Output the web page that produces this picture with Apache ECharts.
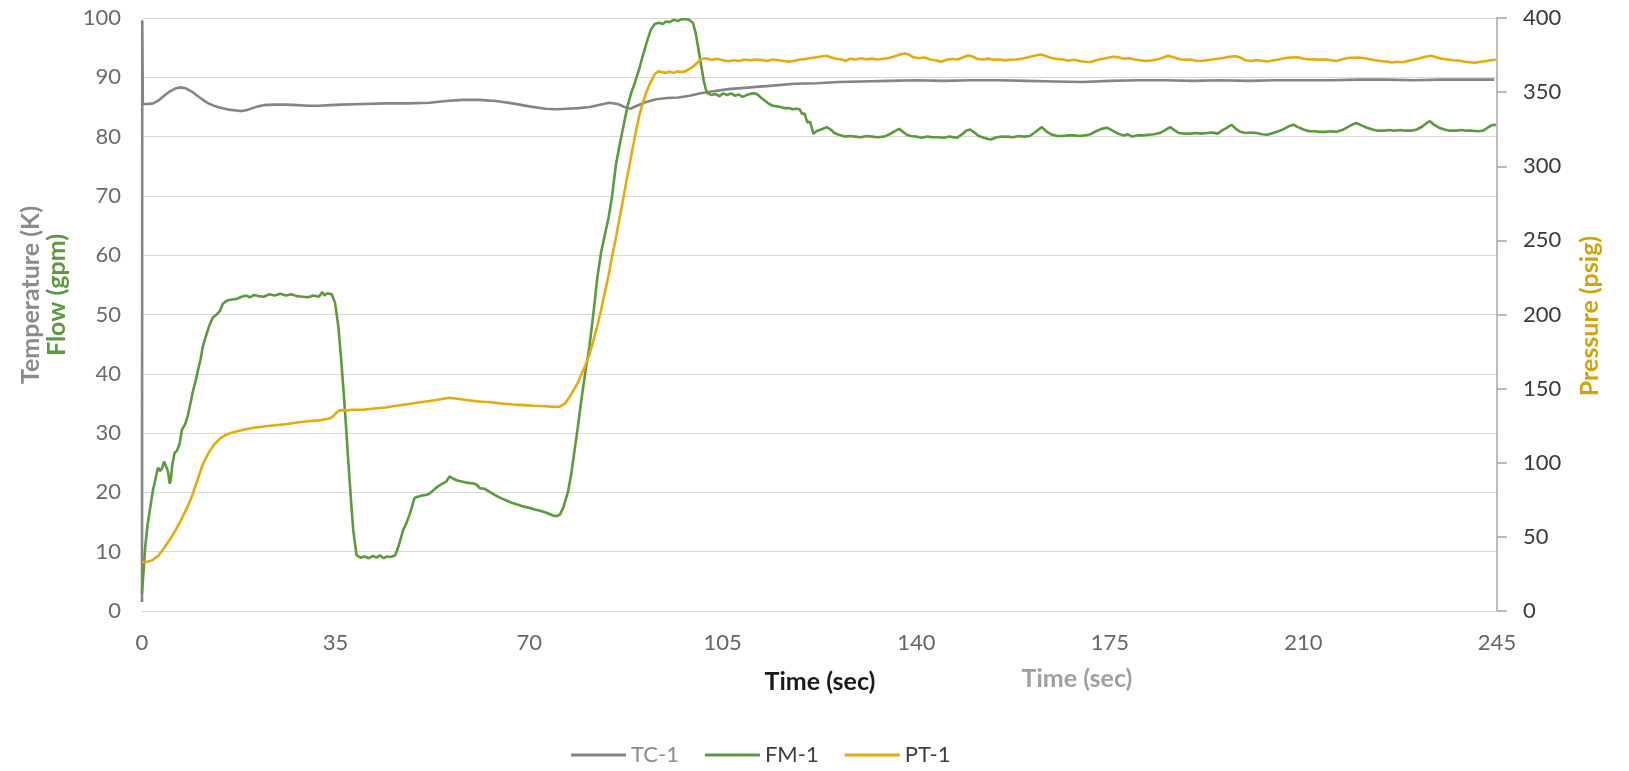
<!DOCTYPE html>
<html>
<head>
<meta charset="utf-8">
<script src="https://cdn.jsdelivr.net/npm/echarts@6/dist/echarts.min.js"></script>
<style>
html,body{margin:0;padding:0;background:#fff;}
#chart{width:1629px;height:771px;}
</style>
</head>
<body>
<div id="chart"></div>
<script>
// ---- data ----
const xTicks = [0, 35, 70, 105, 140, 175, 210, 245];

const tcTime = [0,0.05,0.15,1,2,3,4,5,6,7,8,9,10,11,12,13,14,15,16,17,18,19,20,21,22,24,26,28,30,32,34,36,40,44,48,52,55,58,61,64,67,70,73,75,77,79,81,83,84.5,86,87.5,88.3,89.5,91,93,95,97,99,101,103,106,110,114,118,122,126,130,135,140,145,150,155,160,165,170,175,180,185,190,195,200,205,210,215,220,225,230,235,240,244.5];
const tcTemp = [1.5,99.6,85.5,85.5,85.6,86.1,86.9,87.6,88.1,88.3,88.1,87.6,86.9,86.2,85.6,85.2,84.9,84.7,84.5,84.4,84.3,84.5,84.8,85.1,85.3,85.4,85.4,85.3,85.2,85.2,85.3,85.4,85.5,85.6,85.6,85.7,86.0,86.2,86.2,86.0,85.6,85.1,84.7,84.6,84.7,84.8,85.0,85.4,85.7,85.5,84.9,84.7,85.2,85.8,86.3,86.5,86.6,86.9,87.3,87.6,88.0,88.3,88.6,88.9,89.0,89.2,89.3,89.4,89.5,89.4,89.5,89.5,89.4,89.3,89.2,89.4,89.5,89.5,89.4,89.5,89.4,89.5,89.5,89.5,89.6,89.6,89.5,89.6,89.6,89.6];

const fmTime = [0,0.3,0.6,1.0,1.5,2.0,2.5,2.9,3.2,3.6,4.0,4.3,4.7,5.0,5.2,5.5,5.9,6.3,6.8,7.2,7.8,8.3,8.8,9.2,9.7,10.1,10.6,11.0,11.6,12.2,12.8,13.5,14.1,14.6,15.3,16,17,18,18.9,19.5,20.3,21,22,23,24,25,26,27,28,29,30,31,32,32.6,33.0,33.5,34.3,34.9,35.5,36.0,36.4,36.9,37.3,37.8,38.2,38.8,39.5,40.3,41,41.8,42.4,43,43.7,44.3,45,45.8,46.4,47.2,47.8,48.4,49.0,49.3,50.0,50.8,51.5,52.0,52.6,53.2,54.0,55.0,55.6,56.3,57.0,58.0,59.0,60.0,60.5,61.1,62.0,63.0,64.1,65.0,66.0,67.0,68.0,69.0,70.0,71.0,72.0,73.0,74.3,75.0,75.6,76.2,77.0,77.6,78.2,78.8,79.5,80.2,80.9,81.6,82.3,83.0,83.7,84.4,85.0,85.7,86.4,87.1,87.8,88.5,89.2,89.9,90.6,91.3,92.0,92.7,93.5,94.2,94.7,95.4,96.1,97.0,97.6,98.3,98.9,99.6,100.1,100.6,101.1,101.6,102.0,102.3,103.0,103.7,104.4,105.1,105.8,106.5,107.2,107.9,108.6,109.3,110.0,110.7,111.3,112.0,112.7,113.4,114.1,114.8,115.5,116.2,117.0,117.6,118.3,118.9,119.4,119.8,120.3,120.8,121.4,122.1,122.8,123.8,124.5,125.2,126.0,127,128,129,130,131,132,133,134.2,135.2,136.3,136.9,137.6,138.3,139.0,140,141,142,143,144,145,146,147.3,148.3,149.0,149.7,150.5,151.3,152.2,153.0,153.5,154.5,155.5,156.5,157.5,158.5,159.5,160.5,161.3,162.0,162.7,163.5,164.6,165.5,166.5,167.5,168.5,169.5,170.5,171.5,172.5,173.5,174.5,175.5,176.5,177.5,178.2,179.0,180,181,182,183,184,185,185.9,186.8,187.5,188.5,189.5,190.5,191.5,192.5,193.5,194.5,195.2,196.0,197.0,197.8,198.6,199.5,200.5,201.5,202.5,203.5,204.5,205.5,206.5,207.5,208.2,209.0,210.0,211.0,212.0,213.0,214.0,215.0,216.0,217.0,218.0,219.0,219.6,220.5,221.5,222.5,223.5,224.5,225.5,226.5,227.5,228.5,229.5,230.5,231.5,232.3,232.9,233.6,234.5,235.5,236.5,237.5,238.5,239.5,240.5,241.5,242.5,243.3,244.0,244.8];
const fmFlow = [3,7,11,14.5,17.5,20.5,22.5,24.2,23.6,24.0,25.2,24.5,23.5,21.5,22.0,24.8,26.7,27.0,28.2,30.5,31.5,33.0,35.2,37.0,38.8,40.5,42.5,44.6,46.5,48.2,49.5,50.0,50.6,51.8,52.3,52.5,52.6,53.0,53.2,52.9,53.3,53.1,53.0,53.4,53.2,53.5,53.2,53.4,53.1,53.0,52.9,53.2,53.0,53.8,53.2,53.6,53.4,52.0,48.0,42.5,37.7,31.0,25.3,18.5,13.6,9.4,9.0,9.2,8.9,9.3,9.0,9.4,8.9,9.2,9.1,9.4,11.0,13.6,14.8,16.3,18.2,19.1,19.3,19.5,19.6,19.8,20.3,20.8,21.3,21.8,22.7,22.3,22.0,21.8,21.6,21.5,21.3,20.7,20.6,20.0,19.4,19.0,18.6,18.2,17.9,17.6,17.4,17.1,16.9,16.6,16.1,16.0,16.3,17.5,20.0,23.0,27.0,31.0,36.0,40.5,44.6,50.0,56.0,60.4,63.5,66.5,70.0,75.3,78.8,82.0,85.2,87.5,89.3,91.4,93.8,96.0,98.0,99.0,99.2,99.0,99.4,99.3,99.7,99.5,99.8,99.8,99.7,99.2,97.5,94.8,92.0,89.3,87.8,87.3,87.0,87.2,86.8,87.3,87.0,87.3,86.9,87.1,86.7,87.0,87.2,87.3,87.1,86.5,86.0,85.5,85.2,85.1,85.0,84.8,84.8,84.6,84.7,84.6,83.8,83.9,82.4,82.5,80.5,81.0,81.2,81.6,81.2,80.6,80.3,80.0,80.1,80.0,79.9,80.1,80.0,79.9,80.0,80.4,81.0,81.3,80.8,80.3,80.1,80.0,79.8,80.0,79.9,79.9,79.8,80.0,79.8,80.4,81.0,81.2,80.7,80.1,79.8,79.6,79.5,79.9,80.0,80.0,79.9,80.1,80.0,80.1,80.6,81.1,81.6,80.9,80.3,80.1,80.1,80.2,80.2,80.1,80.2,80.4,80.9,81.3,81.5,81.0,80.5,80.2,80.4,80.0,80.2,80.2,80.3,80.4,80.6,81.1,81.6,81.0,80.6,80.5,80.5,80.6,80.5,80.6,80.7,80.5,81.0,81.4,82.0,81.3,80.8,80.6,80.7,80.6,80.4,80.3,80.6,80.9,81.3,81.8,82.0,81.6,81.2,80.9,80.9,80.8,80.8,80.9,80.8,81.1,81.6,82.1,82.3,81.9,81.5,81.2,81.0,81.0,81.1,81.0,81.1,81.0,81.0,81.2,81.7,82.3,82.6,82.0,81.5,81.2,81.0,81.0,81.1,81.0,81.0,80.9,81.0,81.5,81.9,82.0];

const ptTime = [0,1,2,3,4,5,6,7,8,9,10,11,12,13,14,15,16,17,18,19,20,22,24,26,28,30,32,33.9,34.6,35.2,35.8,37,38,40,42,44,46,48,50,52,54,55.6,57,59,61,63,65,67,69,71,73,74.5,75.5,76.5,77.4,78.2,78.8,79.5,80.2,80.9,81.6,82.3,83.0,83.7,84.4,85.0,85.7,86.4,87.1,87.8,88.5,89.2,89.9,90.6,91.3,92.0,92.7,93.3,94.0,94.7,95.4,96.1,96.8,97.5,98.2,98.9,99.6,100.3,100.9,101.6,102.3,103,104,105,106,107,108,109,110,111,112,113,114,115,116,117,118,119,120,121,122,123,123.8,124.5,125.5,126.5,127.2,128,129,130,131,132,133,134.2,135,136,137,138,138.8,139.5,140.5,141.5,142.5,143.5,144.5,145.5,146.5,147.5,148.5,149.4,150.3,151,152,153,154,155,156,157,158,159,160,161,162,162.7,163.5,164.5,165.5,166.5,167.5,168.5,169.5,170.5,171.5,172.5,173.5,174.5,175.5,176.5,177.5,178.5,179.5,180.5,181.5,182.5,183.5,184.5,185.5,186.5,187.5,188.5,189.5,190.5,191.5,192.5,193.5,194.5,195.5,196.5,197.8,198.8,199.5,200.5,201.5,202.5,203.5,204.5,205.5,206.5,207.5,209,210,211,212,213,214,215,216,217,218,219,219.9,221,222,223,224,225,226,227,228,229,230,231,232,233.1,234,235,236,237,238,239,240,241,242,243,244,244.8];
const ptPressure = [33,33.2,34.5,37.5,42.5,48,54,61,68.5,77,88,99,106.5,112,116,118.5,120,121,122,122.8,123.5,124.5,125.3,126,127.2,128,128.6,129.8,131.5,134,135.5,135.3,135.8,135.8,136.6,137.3,138.5,139.5,140.6,141.6,142.8,143.8,143.2,142.2,141.3,140.8,140,139.3,138.9,138.4,138.1,137.7,137.8,140,145,150,154,160,166,173,182,192,203,215,227,239,252,266,280,294,308,321.5,334,343.5,351,357,362,364,363.5,363,363.8,363,364,363.5,364,365.5,367,369.5,371.6,372.8,372.5,371.8,372.5,371.5,370.8,371.5,371,372,371.5,372,371.6,371,372,371.5,371,370.5,371.2,372,372.3,373,373.5,374.2,374.5,373.5,372.5,372,371,372.5,372,372.8,372.2,372.6,372,372.5,373,374,375.3,376,375,373.5,372.8,373.3,372,371.5,370.5,371.8,372.5,372,373.5,374.7,373.8,372.5,372,372.6,371.8,372,371.4,371.8,372,372.5,373.3,374.2,375,375.3,374.2,373,372.3,372,371.2,371.8,371,370.5,370.3,371.5,372.3,373,373.8,373.5,372.5,372.8,372,371.5,371,371.3,372,373,374.5,373.5,372.3,371.8,372,371.2,371,371.5,372,372.5,373,373.8,374.2,373,371.5,371,371.6,371.2,370.6,371.4,372,372.8,373.3,373.5,372.5,372,372.2,371.8,372,371.5,371,372.2,373,373.2,373.3,372.8,372.2,371.5,371,370.6,370,370.5,370.2,371.2,371.8,372.8,373.8,374.6,373.5,372.5,372,371.5,371.3,370.6,370.2,369.8,370.5,371,371.6,371.8];

const zip = (xs, ys) => xs.map((x, i) => [x, ys[i]]);

const chart = echarts.init(document.getElementById('chart'), null, {renderer: 'canvas'});
const FONT = 'Lato, "Liberation Sans", sans-serif';

chart.setOption({
  animation: false,
  backgroundColor: '#ffffff',
  textStyle: {fontFamily: FONT},
  grid: {left: 142, right: 132, top: 18, bottom: 160, containLabel: false},
  legend: {
    left: 566, top: 739,
    icon: 'rect', itemWidth: 55, itemHeight: 3, itemGap: 26,
    textStyle: {fontSize: 22, color: '#404040', fontFamily: FONT},
    data: [
      {name: 'TC-1', textStyle: {color: '#8c8c8c'}},
      {name: 'FM-1'},
      {name: 'PT-1'}
    ]
  },
  xAxis: {
    type: 'value', min: xTicks[0], max: xTicks[xTicks.length - 1], interval: 35,
    axisLine: {show: true, lineStyle: {color: '#d9d9d9', width: 1.2}},
    axisTick: {show: false},
    splitLine: {show: false},
    axisLabel: {color: '#666666', fontSize: 22, margin: 21, fontFamily: FONT}
  },
  yAxis: [
    {
      type: 'value', min: 0, max: 100, interval: 10, position: 'left',
      axisLine: {show: false},
      axisTick: {show: false},
      splitLine: {show: true, lineStyle: {color: '#d9d9d9', width: 1.2}},
      axisLabel: {color: '#6b6b6b', fontSize: 22, margin: 21, fontFamily: FONT}
    },
    {
      type: 'value', min: 0, max: 400, interval: 50, position: 'right',
      axisLine: {show: true, lineStyle: {color: '#a6a6a6', width: 1.5}},
      axisTick: {show: true, inside: false, length: 10, lineStyle: {color: '#a6a6a6', width: 1.5}},
      splitLine: {show: false},
      axisLabel: {color: '#3a3a3a', fontSize: 22, margin: 26, fontFamily: FONT}
    }
  ],
  graphic: [
    {type: 'text', x: 31, y: 295, rotation: Math.PI / 2,
     style: {text: 'Temperature (K)', font: 'bold 25px ' + FONT, fill: '#8c8c8c', align: 'center', verticalAlign: 'middle'}},
    {type: 'text', x: 57, y: 295, rotation: Math.PI / 2,
     style: {text: 'Flow (gpm)', font: 'bold 25px ' + FONT, fill: '#5b9b3c', align: 'center', verticalAlign: 'middle'}},
    {type: 'text', x: 1590, y: 316, rotation: Math.PI / 2,
     style: {text: 'Pressure (psig)', font: 'bold 25px ' + FONT, fill: '#d4a20a', align: 'center', verticalAlign: 'middle'}},
    {type: 'text', x: 820, y: 682,
     style: {text: 'Time (sec)', font: 'bold 25px ' + FONT, fill: '#1a1a1a', align: 'center', verticalAlign: 'middle'}},
    {type: 'text', x: 1077, y: 679,
     style: {text: 'Time (sec)', font: 'bold 25px ' + FONT, fill: '#a0a0a0', align: 'center', verticalAlign: 'middle'}}
  ],
  series: [
    {name: 'TC-1', type: 'line', yAxisIndex: 0, data: zip(tcTime, tcTemp),
     showSymbol: false, symbol: 'none', lineStyle: {color: '#858585', width: 2.6}, itemStyle: {color: '#858585'}},
    {name: 'FM-1', type: 'line', yAxisIndex: 0, data: zip(fmTime, fmFlow),
     showSymbol: false, symbol: 'none', lineStyle: {color: '#5b9b3c', width: 2.6}, itemStyle: {color: '#5b9b3c'}},
    {name: 'PT-1', type: 'line', yAxisIndex: 1, data: zip(ptTime, ptPressure),
     showSymbol: false, symbol: 'none', lineStyle: {color: '#e8aa0c', width: 2.6}, itemStyle: {color: '#e8aa0c'}}
  ]
});
</script>
</body>
</html>
